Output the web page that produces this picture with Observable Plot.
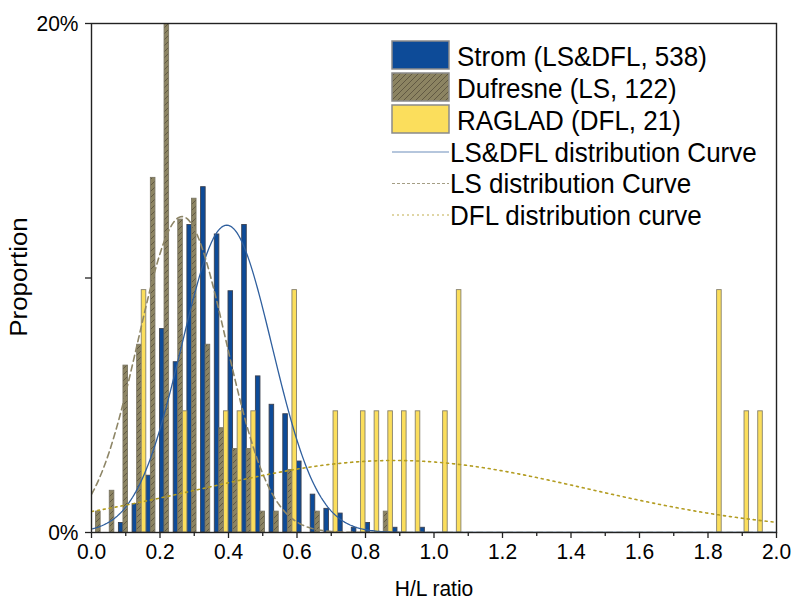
<!DOCTYPE html>
<html>
<head>
<meta charset="utf-8">
<script src="https://cdn.jsdelivr.net/npm/d3@7"></script>
<script src="https://cdn.jsdelivr.net/npm/@observablehq/plot@0.6"></script>
<style>
  body { margin: 0; background: #fff; }
  #chart svg { display: block; }
</style>
</head>
<body>
<div id="chart"></div>
<script>
// Histogram bins of the H/L ratio: centres of 0.04-wide bins from 0 to 2
const binCenter = [0.02, 0.06, 0.10, 0.14, 0.18, 0.22, 0.26, 0.30, 0.34, 0.38,
                   0.42, 0.46, 0.50, 0.54, 0.58, 0.62, 0.66, 0.70, 0.74, 0.78,
                   0.82, 0.86, 0.90, 0.94, 0.98, 1.02, 1.06, 1.10, 1.14, 1.18,
                   1.22, 1.26, 1.30, 1.34, 1.38, 1.42, 1.46, 1.50, 1.54, 1.58,
                   1.62, 1.66, 1.70, 1.74, 1.78, 1.82, 1.86, 1.90, 1.94, 1.98];
const binWidth = 0.04;

// Landslide counts per bin for each inventory
const stromCounts    = [0, 0, 2, 6, 12, 43, 36, 65, 73, 63,
                        51, 65, 33, 27, 25, 15, 8, 5, 4, 1,
                        2, 0, 1, 0, 1, 0, 0, 0, 0, 0,
                        0, 0, 0, 0, 0, 0, 0, 0, 0, 0,
                        0, 0, 0, 0, 0, 0, 0, 0, 0, 0];
const dufresneCounts = [1, 2, 8, 9, 17, 25, 15, 16, 9, 5,
                        4, 4, 1, 1, 3, 0, 1, 0, 0, 0,
                        0, 1, 0, 0, 0, 0, 0, 0, 0, 0,
                        0, 0, 0, 0, 0, 0, 0, 0, 0, 0,
                        0, 0, 0, 0, 0, 0, 0, 0, 0, 0];
const ragladCounts   = [0, 0, 0, 2, 0, 0, 1, 0, 0, 1,
                        1, 1, 0, 0, 2, 0, 0, 1, 0, 1,
                        1, 1, 1, 1, 0, 1, 2, 0, 0, 0,
                        0, 0, 0, 0, 0, 0, 0, 0, 0, 0,
                        0, 0, 0, 0, 0, 2, 0, 1, 1, 0];

const seriesNames = ["Strom (LS&DFL, 538)", "Dufresne (LS, 122)", "RAGLAD (DFL, 21)"];
const curveNames  = ["LS&DFL distribution Curve", "LS distribution Curve", "DFL distribution curve"];

const xTicks      = [0, 0.2, 0.4, 0.6, 0.8, 1.0, 1.2, 1.4, 1.6, 1.8, 2.0];
const xMinorTicks = [0.1, 0.3, 0.5, 0.7, 0.9, 1.1, 1.3, 1.5, 1.7, 1.9];
const yTicks      = [0, 0.1, 0.2];
const yTickLabels = ["0%", "", "20%"];

// Styling
const FONT = "'Liberation Sans', Arial, Helvetica, sans-serif";
const TEXT_STRETCH = 1.08;   // slightly tall, narrow lettering
const seriesFill   = ["#0d4b98", "url(#hatch-dufresne)", "#fbde5c"];
const seriesStroke = ["#3b4150", "#7b7663", "#86816c"];
const curveStroke  = ["#2f5f9e", "#8e8667", "#b39c20"];
const curveDash    = ["none", "6,4", "2,4"];
const curveWidth   = [1.3, 1.6, 1.6];

// Bars: three columns side by side inside each bin, heights as proportions
const allCounts = [stromCounts, dufresneCounts, ragladCounts];
const bars = [];
allCounts.forEach((counts, s) => {
  const n = d3.sum(counts);
  counts.forEach((c, k) => {
    if (c > 0) {
      const x1 = binCenter[k] - binWidth / 2 + s * binWidth / 3;
      bars.push({series: s, x1, x2: x1 + binWidth / 3, y1: 0, y2: c / n});
    }
  });
});

// Normal distribution curves fitted to each binned inventory, scaled to bin proportion
const curveX = d3.range(0, 2.0001, 0.005);
const curves = allCounts.map((counts, s) => {
  const n = d3.sum(counts);
  const mean = d3.sum(counts, (c, k) => c * binCenter[k]) / n;
  const sd = Math.sqrt(d3.sum(counts, (c, k) => c * (binCenter[k] - mean) ** 2) / (n - 1));
  return curveX.map(x => ({
    series: s,
    x,
    y: binWidth * Math.exp(-((x - mean) ** 2) / (2 * sd * sd)) / (sd * Math.sqrt(2 * Math.PI))
  }));
});

const plot = Plot.plot({
  width: 792,
  height: 601,
  marginLeft: 91,
  marginRight: 16,
  marginTop: 23,
  marginBottom: 69,
  style: {fontFamily: FONT, fontSize: "21px", background: "#fff", color: "#000", overflow: "visible"},
  x: {domain: [0, 2]},
  y: {domain: [0, 0.2]},
  marks: [
    ...[0, 1, 2].map(s => Plot.rect(bars.filter(b => b.series === s), {
      x1: "x1", x2: "x2", y1: "y1", y2: "y2",
      fill: seriesFill[s], stroke: seriesStroke[s], strokeWidth: 0.9, clip: true
    })),
    ...[0, 1, 2].map(s => Plot.line(curves[s], {
      x: "x", y: "y", stroke: curveStroke[s], strokeWidth: curveWidth[s],
      strokeDasharray: curveDash[s], clip: true
    })),
    Plot.axisX({ticks: xTicks, tickSize: 6, tickPadding: 4, tickFormat: d3.format(".1f"),
                label: null, stroke: "#222", strokeWidth: 1.3}),
    Plot.axisX({ticks: xMinorTicks, tickSize: 4, text: null, label: null, stroke: "#222", strokeWidth: 1.3}),
    Plot.axisY({ticks: yTicks, tickSize: 6, tickPadding: 7,
                tickFormat: d => yTickLabels[yTicks.indexOf(d)],
                label: null, stroke: "#222", strokeWidth: 1.3}),
    Plot.frame({stroke: "#222", strokeWidth: 1.4})
  ]
});

const svg = d3.select(plot);

// Give tick labels a slightly taller, narrower proportion about their own anchor point
function stretchText(el, sy) {
  const x = parseFloat(el.getAttribute("x"));
  const y = parseFloat(el.getAttribute("y"));
  const ax = String(el.getAttribute("x") || "").endsWith("em") || isNaN(x) ? 0 : x;
  const ay = String(el.getAttribute("y") || "").endsWith("em") || isNaN(y) ? 0 : y;
  const t = el.getAttribute("transform") || "";
  el.setAttribute("transform",
    `${t} translate(${ax},${ay}) scale(1,${sy}) translate(${-ax},${-ay})`);
}
svg.selectAll("text").attr("font-size", 21).each(function () { stretchText(this, TEXT_STRETCH); });

// Diagonal hatch used for the Dufresne columns
const defs = svg.insert("defs", ":first-child");
const pat = defs.append("pattern")
  .attr("id", "hatch-dufresne")
  .attr("patternUnits", "userSpaceOnUse")
  .attr("width", 6).attr("height", 6);
pat.append("rect").attr("width", 6).attr("height", 6).attr("fill", "#8c8462");
pat.append("path")
  .attr("d", "M-1,1 L1,-1 M0,6 L6,0 M5,7 L7,5")
  .attr("stroke", "#5c5540").attr("stroke-width", 0.9);

// Axis titles
svg.append("text")
  .attr("transform", `translate(434,596) scale(1,${TEXT_STRETCH})`)
  .attr("text-anchor", "middle")
  .attr("font-family", FONT).attr("font-size", 21)
  .text("H/L ratio");
svg.append("text")
  .attr("transform", `translate(27,277) rotate(-90) scale(${TEXT_STRETCH},1)`)
  .attr("text-anchor", "middle")
  .attr("font-family", FONT).attr("font-size", 24)
  .text("Proportion");

// Legend inside the plot frame
const legend = svg.append("g")
  .attr("font-family", FONT).attr("font-size", 26).attr("text-anchor", "start");
seriesNames.forEach((name, i) => {
  const top = 41 + i * 32;
  legend.append("rect")
    .attr("x", 392).attr("y", top).attr("width", 57).attr("height", 28)
    .attr("fill", seriesFill[i]).attr("stroke", "#8a8a8a").attr("stroke-width", 1.5);
  legend.append("text")
    .attr("transform", `translate(457,${top + 25}) scale(1,${TEXT_STRETCH})`)
    .text(name);
});
curveNames.forEach((name, i) => {
  const cy = 152 + i * 31.5;
  legend.append("line")
    .attr("x1", 392).attr("x2", 449).attr("y1", cy).attr("y2", cy)
    .attr("stroke", curveStroke[i]).attr("stroke-width", i === 0 ? 1 : 1.2)
    .attr("stroke-dasharray", i === 0 ? null : (i === 1 ? "3,2" : "2,3"))
    .attr("opacity", i === 0 ? 0.7 : 0.8);
  legend.append("text")
    .attr("transform", `translate(450,${cy + 9.5}) scale(1,${TEXT_STRETCH})`)
    .text(name);
});

document.getElementById("chart").appendChild(plot);
</script>
</body>
</html>
